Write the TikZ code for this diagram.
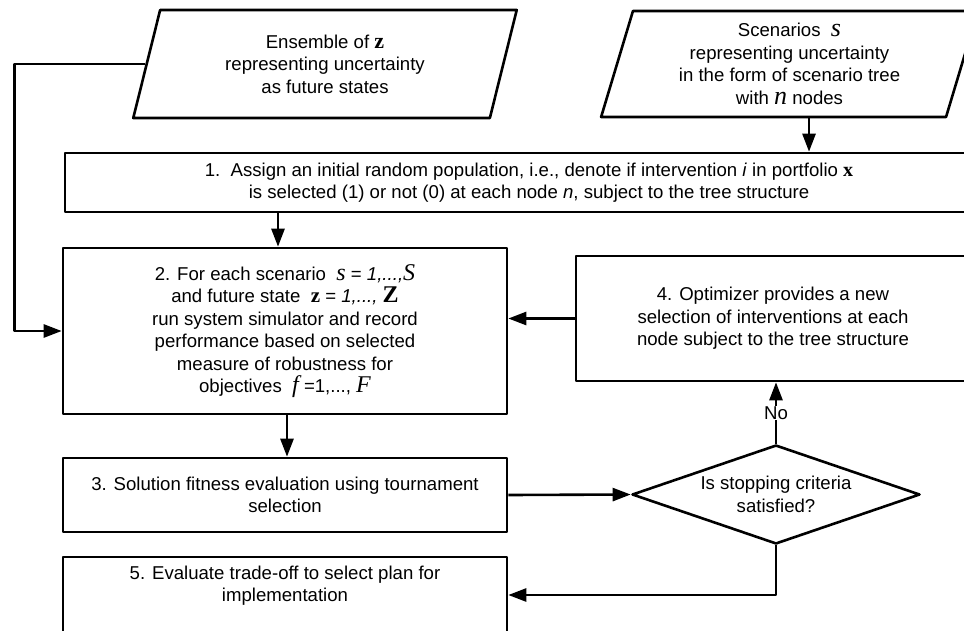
\documentclass[tikz,border=0pt]{standalone}
\usepackage{fontspec}
\setmainfont{Liberation Sans}
\newfontfamily\serifvar{Liberation Serif}
\usetikzlibrary{shapes.geometric,arrows.meta}
\newcommand{\vit}[2]{{\serifvar\itshape\fontsize{#1}{10}\selectfont #2}}
\newcommand{\vbf}[2]{{\serifvar\bfseries\fontsize{#1}{10}\selectfont #2}}
\begin{document}
\begin{tikzpicture}[x=1pt,y=-1pt,line join=round,line width=2.6pt,
  >={Triangle[length=18pt,width=13pt]},
  every node/.style={font=\fontsize{18.6}{22.5}\selectfont,align=center},
  box/.style={draw,rectangle,inner sep=0pt},
  inbox/.style={draw,trapezium,trapezium stretches=true,inner sep=0pt,
    trapezium left angle=74.5,trapezium right angle=105.5},
  decision/.style={draw,diamond,aspect=2.9,inner sep=0pt,
    minimum width=288pt,minimum height=99pt}]
\useasboundingbox (0,0) rectangle (964,630);
\clip (0,0) rectangle (964,630);

\node[inbox,minimum width=384pt,minimum height=108pt] (ens) at (325,64)
  {Ensemble of \vbf{22}{z}\\representing uncertainty\\as future states};
\node[inbox,minimum width=377pt,minimum height=106pt] (sce) at (789.5,64)
  {Scenarios \ \vit{26}{s}\\representing uncertainty\\in the form of scenario tree\\with \vit{26}{n} nodes};

\node[box,minimum width=928pt,minimum height=59pt] (pop) at (529,182.5)
  {1.\ \ Assign an initial random population, i.e., denote if intervention \textit{i} in portfolio \vbf{20}{x}\\
   is selected (1) or not (0) at each node \textit{n}, subject to the tree structure};
\node[box,minimum width=444pt,minimum height=166pt] (sim) at (285,331)
  {2. For each scenario \ \vit{24}{s} = \textit{1,...,}\vit{24}{S}\\
   and future state \ \vbf{21}{z} = \textit{1,...,} \vbf{24}{Z}\\
   run system simulator and record\\performance based on selected\\measure of robustness for\\
   objectives \ \vit{24}{f} =1,..., \vit{24}{F}};
\node[box,minimum width=394pt,minimum height=125pt] (opt) at (773,318.5)
  {4. Optimizer provides a new\\selection of interventions at each\\node subject to the tree structure};
\node[box,minimum width=444pt,minimum height=74pt] (fit) at (285,495)
  {3. Solution fitness evaluation using tournament\\selection};
\node[decision] (crit) at (776,494.5) {Is stopping criteria\\satisfied?};
\node[box,minimum width=444pt,minimum height=98pt] (plan) at (285,606)
  {5. Evaluate trade-off to select plan for\\implementation\\~\\~};

% connectors
\draw[->] ([xshift=19.5pt]sce.south) -- ([xshift=19.5pt]sce.south |- pop.north);
\draw[->] ([xshift=-7pt]sim.north |- pop.south) -- ([xshift=-7pt]sim.north);
\draw[->] (ens.west) -| ([xshift=-47pt]sim.west) -- (sim.west);
\draw[->] ([xshift=2pt]sim.south) -- ([xshift=2pt]fit.north);
\draw[->] (opt.west) -- (opt.west -| sim.east);
\draw[->] (fit.east) -- (crit.west);
\draw[->] (crit.north) -- node[fill=white,inner sep=1pt] {No} (crit.north |- opt.south);
\draw[->] (crit.south) |- ([yshift=11pt]plan.east);
\end{tikzpicture}
\end{document}
